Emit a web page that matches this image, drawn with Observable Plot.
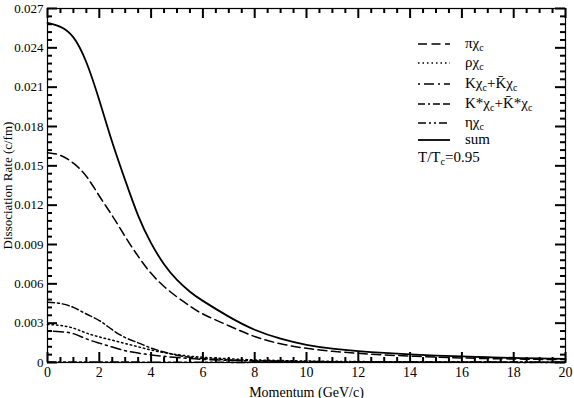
<!DOCTYPE html>
<html><head><meta charset="utf-8">
<script src="https://cdn.jsdelivr.net/npm/d3@7"></script>
<script src="https://cdn.jsdelivr.net/npm/@observablehq/plot@0.6"></script>
<style>body{margin:0;background:#fff}#chart{width:574px;height:398px}</style>
</head><body><div id="chart"></div>
<script>
const momentum = [0,0.5,1,1.5,2,2.5,3,3.5,4,4.5,5,5.5,6,7,8,9,10,11,12,13,14,15,16,17,18,19,20];
const piChi   = [0.0160,0.0158,0.0152,0.0142,0.0127,0.0112,0.0096,0.0081,0.0068,0.0058,0.0050,0.0043,0.0037,0.0028,0.00198,0.00143,0.00108,0.00086,0.0007,0.00058,0.00049,0.00041,0.00035,0.0003,0.00027,0.00024,0.00022];
const rhoChi  = [0.0029,0.00283,0.00262,0.00225,0.00195,0.0017,0.00145,0.0012,0.00095,0.00075,0.0006,0.00048,0.0004,0.00028,0.0002,0.00015,0.00011,0.00009,0.00007,0.00006,0.00005,0.00004,0.00003,0.00003,0.00002,0.00002,0.00002];
const kChi    = [0.0024,0.00235,0.0022,0.0018,0.00148,0.00118,0.0009,0.00072,0.00058,0.00047,0.00038,0.0003,0.00024,0.00016,0.00011,0.00008,0.00006,0.00005,0.00004,0.00003,0.00003,0.00002,0.00002,0.00002,0.00001,0.00001,0.00001];
const kstarChi= [0.0046,0.0045,0.0042,0.0037,0.0032,0.0025,0.0019,0.0015,0.0011,0.0008,0.00055,0.0004,0.0003,0.0002,0.00014,0.0001,0.00008,0.00006,0.00005,0.00004,0.00003,0.00003,0.00002,0.00002,0.00002,0.00001,0.00001];
const etaChi  = [0.00004,0.00004,0.00004,0.00004,0.00003,0.00003,0.00003,0.00003,0.00002,0.00002,0.00002,0.00002,0.00002,0.00001,0.00001,0.00001,0.00001,0.00001,0.00001,0.00001,0.00001,0.00001,0.00001,0.00001,0.00001,0.00001,0.00001];
const sumChi  = [0.0259,0.0256,0.0248,0.0229,0.0200,0.0168,0.0139,0.0112,0.0091,0.0075,0.0063,0.0054,0.0047,0.0035,0.0025,0.00182,0.00135,0.00106,0.00087,0.00073,0.00062,0.00053,0.00046,0.0004,0.00035,0.00031,0.00028];

const seriesNames = ["pi","rho","K","Kstar","eta","sum"];
const seriesValues = [piChi, rhoChi, kChi, kstarChi, etaChi, sumChi];
const seriesDash = ["9,4.5","1.5,3","2,4,10,4","7,3,2,3,7,3","8,3,2,3,2,3",null];
const seriesWidth = [1.5,1.5,1.5,1.5,1.5,1.8];
const legendLabels = [
  [["πχ"],["c","sub"]],
  [["ρχ"],["c","sub"]],
  [["Kχ"],["c","sub"],["+K\u0304χ"],["c","sub"]],
  [["K*χ"],["c","sub"],["+K\u0304*χ"],["c","sub"]],
  [["ηχ"],["c","sub"]],
  [["sum"]]
];
const noteLabel = [["T/T"],["c","sub"],["=0.95"]];

const xDomain = [0, 20], yDomain = [0, 0.027];
const xMajor = d3.range(0, 21, 2);
const xMinor = d3.range(0, 20.001, 0.5).filter(d => d % 2 !== 0);
const yMajor = d3.range(0, 0.0271, 0.003).map(d => +d.toFixed(3));
const yMinor = d3.range(0, 0.02701, 0.0006).map(d => +d.toFixed(4)).filter(d => Math.abs(d/0.003 - Math.round(d/0.003)) > 1e-6);

const W = 574, H = 398, ML = 47, MR = 9, MT = 8, MB = 36;
const innerW = W - ML - MR, innerH = H - MT - MB;
const yPx = px => px * (yDomain[1] - yDomain[0]) / innerH;
const xPx = px => px * (xDomain[1] - xDomain[0]) / innerW;

const lineMarks = seriesNames.map((name, i) =>
  Plot.line(momentum.map((p, j) => ({p, v: seriesValues[i][j]})), {
    x: "p", y: "v", stroke: "black", strokeWidth: seriesWidth[i],
    strokeDasharray: seriesDash[i], curve: "natural"
  })
);

const tk = {stroke: "#000", strokeWidth: 2};
const tickMarks = [
  Plot.ruleX(xMajor, {x: d => d, y1: yDomain[0], y2: yDomain[0] + yPx(10), ...tk}),
  Plot.ruleX(xMinor, {x: d => d, y1: yDomain[0], y2: yDomain[0] + yPx(5), ...tk}),
  Plot.ruleX(xMajor, {x: d => d, y1: yDomain[1] - yPx(10), y2: yDomain[1], ...tk}),
  Plot.ruleX(xMinor, {x: d => d, y1: yDomain[1] - yPx(5), y2: yDomain[1], ...tk}),
  Plot.ruleY(yMajor, {y: d => d, x1: xDomain[0], x2: xDomain[0] + xPx(10), ...tk}),
  Plot.ruleY(yMinor, {y: d => d, x1: xDomain[0], x2: xDomain[0] + xPx(5), ...tk}),
  Plot.ruleY(yMajor, {y: d => d, x1: xDomain[1] - xPx(10), x2: xDomain[1], ...tk}),
  Plot.ruleY(yMinor, {y: d => d, x1: xDomain[1] - xPx(5), x2: xDomain[1], ...tk})
];

const plot = Plot.plot({
  width: W, height: H,
  marginLeft: ML, marginRight: MR, marginTop: MT, marginBottom: MB,
  style: {fontFamily: "'Liberation Serif', serif", fontSize: "14px", background: "white", color: "black"},
  x: {domain: xDomain},
  y: {domain: yDomain},
  marks: [
    ...lineMarks,
    ...tickMarks,
    Plot.frame({stroke: "black", strokeWidth: 1.2}),
    Plot.axisX({anchor: "bottom", ticks: xMajor, tickSize: 0, tickPadding: 5, tickFormat: d => String(d),
      fontSize: 14, label: "Momentum (GeV/c)", labelAnchor: "center", labelOffset: 34, labelArrow: "none"}),
    Plot.axisY({anchor: "left", ticks: yMajor, tickSize: 0, tickPadding: 4, fontSize: 13,
      tickFormat: d => d === 0 ? "0" : d3.format(".3f")(d),
      label: "Dissociation Rate (c/fm)", labelAnchor: "center", labelOffset: 45, labelArrow: "none"})
  ]
});
document.getElementById("chart").appendChild(plot);

// legend
const svg = d3.select(plot);
const lg = svg.append("g")
  .attr("style", "font-family:'Liberation Serif',serif;font-size:15px;text-anchor:start")
  .attr("fill", "black");
const rowY = [44, 63, 84, 104, 123, 140];
function addText(g, x, y, parts) {
  const t = g.append("text").attr("x", x).attr("y", y).attr("text-anchor", "start");
  let shifted = false;
  parts.forEach(([s, kind]) => {
    const ts = t.append("tspan").text(s);
    if (kind === "sub") { ts.attr("dy", 3).attr("style", "font-size:10px"); shifted = true; }
    else if (shifted) { ts.attr("dy", -3); shifted = false; }
  });
}
seriesNames.forEach((name, i) => {
  lg.append("line").attr("x1", 418).attr("x2", 450).attr("y1", rowY[i]).attr("y2", rowY[i])
    .attr("stroke", "black").attr("stroke-width", seriesWidth[i])
    .attr("stroke-dasharray", seriesDash[i]);
  addText(lg, 465, rowY[i] + 4, legendLabels[i]);
});
addText(lg, 418, 162, noteLabel);
</script>
</body></html>
